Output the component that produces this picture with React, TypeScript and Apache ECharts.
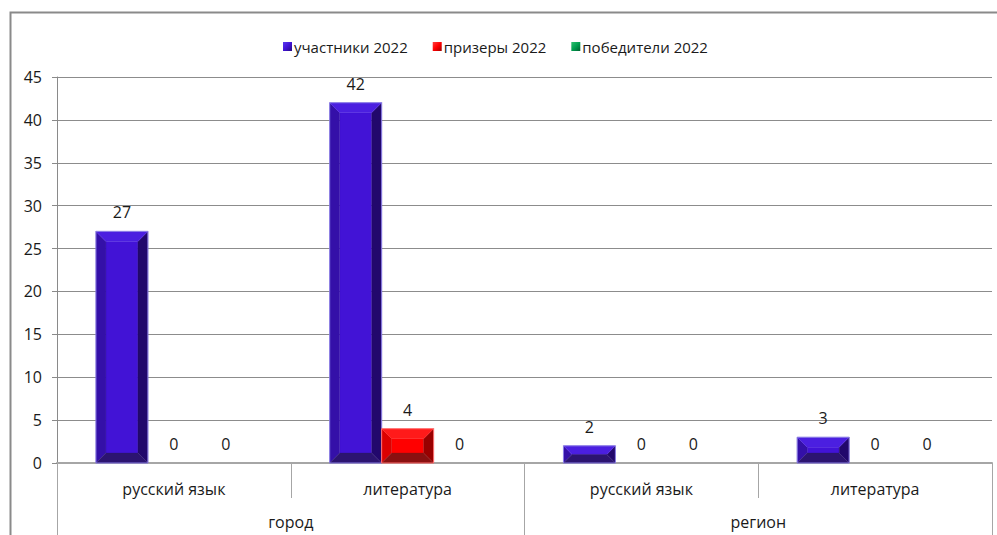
import React, { useEffect, useRef } from "react";
import * as echarts from "echarts";

const subjects = ["русский язык", "литература", "русский язык", "литература"];
const levels = ["город", "регион"];
const seriesNames = ["участники 2022", "призеры 2022", "победители 2022"];
const participants = [27, 42, 2, 3];
const prizewinners = [0, 4, 0, 0];
const winners = [0, 0, 0, 0];
const yTicks = { min: 0, max: 45, interval: 5 };

const FONT = "'Open Sans', 'Noto Sans', sans-serif";

const palettes = [
  { face: "#4213d6", top: "#4b1fe0", left: "#3410a8", right: "#22086c", bottom: "#2c1470", edge: "#8b7ee6", l1: "#5a3af0", l2: "#240a80" },
  { face: "#ff0000", top: "#ff1a1a", left: "#dc0000", right: "#990000", bottom: "#8a1010", edge: "#ff7070", l1: "#ff4040", l2: "#a00000" },
  { face: "#00a050", top: "#10b060", left: "#008a40", right: "#005a28", bottom: "#0a5a2a", edge: "#60d090", l1: "#30c070", l2: "#006030" },
];

function makeRender(sIdx: number) {
  const p = palettes[sIdx];
  return (params: any, api: any) => {
    const cat = api.value(0);
    const v = api.value(1);
    const base = api.coord([cat, 0]);
    const top = api.coord([cat, v]);
    const catW = api.size([1, 0])[0];
    const bw = (catW * (1 - 1 / 3)) / 3;
    const cx = base[0] + (sIdx - 1) * bw;
    const x0 = cx - bw / 2;
    const x1 = cx + bw / 2;
    const y0 = top[1];
    const y1 = base[1];
    const h = y1 - y0;
    const children: any[] = [];
    if (h > 0.5) {
      const b = Math.min(10, h / 2, bw / 4);
      const poly = (pts: number[][], fill: string) => ({
        type: "polygon",
        shape: { points: pts },
        style: { fill, stroke: fill, lineWidth: 0.3 },
      });
      children.push(poly([[x0 + b, y0 + b], [x1 - b, y0 + b], [x1 - b, y1 - b], [x0 + b, y1 - b]], p.face));
      children.push(poly([[x0, y0], [x0 + b, y0 + b], [x0 + b, y1 - b], [x0, y1]], p.left));
      children.push(poly([[x1, y0], [x1 - b, y0 + b], [x1 - b, y1 - b], [x1, y1]], p.right));
      children.push(poly([[x0, y0], [x1, y0], [x1 - b, y0 + b], [x0 + b, y0 + b]], p.top));
      children.push(poly([[x0, y1], [x1, y1], [x1 - b, y1 - b], [x0 + b, y1 - b]], p.bottom));
      children.push({
        type: "rect",
        shape: { x: x0, y: y0, width: bw, height: h },
        style: { fill: "none", stroke: p.edge, lineWidth: 1 },
      });
    }
    children.push({
      type: "text",
      x: cx,
      y: y0 - 19,
      style: {
        text: String(v),
        fill: "#1a1a1a",
        font: `16px ${FONT}`,
        align: "center",
        verticalAlign: "middle",
      },
    });
    return { type: "group", children };
  };
}

const seriesData = [participants, prizewinners, winners];

export default function App() {
  const ref = useRef<HTMLDivElement>(null);
  useEffect(() => {
    if (!ref.current) return;
    const chart = echarts.init(ref.current, undefined, { renderer: "svg" });
    chart.setOption({
      animation: false,
      backgroundColor: "#ffffff",
      textStyle: { fontFamily: FONT },
      graphic: [
        {
          type: "rect",
          shape: { x: 10.5, y: 12.5, width: 1000, height: 600 },
          style: { fill: "none", stroke: "#8a8a8a", lineWidth: 2 },
          z: 100,
          silent: true,
        },
      ],
      legend: {
        top: 34,
        left: 278,
        itemWidth: 9,
        itemHeight: 9,
        itemGap: 25,
        textStyle: { fontSize: 15, color: "#1a1a1a", fontFamily: FONT, padding: [0, 0, 0, -3] },
        data: seriesNames.map((n, i) => ({
          name: n,
          icon: "rect",
          itemStyle: {
            color: new echarts.graphic.LinearGradient(0, 0, 1, 1, [
              { offset: 0, color: palettes[i].l1 },
              { offset: 0.5, color: palettes[i].face },
              { offset: 1, color: palettes[i].l2 },
            ]),
          },
        })),
      },
      grid: { left: 57, right: 5, top: 77, bottom: 72 },
      xAxis: [
        {
          type: "category",
          data: subjects,
          position: "bottom",
          axisLine: { show: true, lineStyle: { color: "#a6a6a6", width: 2 } },
          axisTick: { show: true, interval: 0, length: 35, lineStyle: { color: "#a6a6a6", width: 1 } },
          axisLabel: { margin: 18, fontSize: 16, color: "#1a1a1a", fontFamily: FONT, interval: 0 },
          splitLine: { show: false },
        },
        {
          type: "category",
          data: levels,
          position: "bottom",
          offset: 0,
          axisLine: { show: false },
          axisTick: { show: true, interval: 0, length: 90, lineStyle: { color: "#a6a6a6", width: 1 } },
          axisLabel: { margin: 51, fontSize: 16, color: "#1a1a1a", fontFamily: FONT, interval: 0 },
          splitLine: { show: false },
        },
      ],
      yAxis: {
        type: "value",
        min: yTicks.min,
        max: yTicks.max,
        interval: yTicks.interval,
        axisLine: { show: true, lineStyle: { color: "#8a8a8a", width: 1 } },
        axisTick: { show: true, length: 5, lineStyle: { color: "#8a8a8a" } },
        axisLabel: { margin: 15, fontSize: 16, color: "#1a1a1a", fontFamily: FONT },
        splitLine: { show: true, lineStyle: { color: "#8c8c8c", width: 1 } },
      },
      series: seriesNames.map((n, i) => ({
        type: "custom",
        name: n,
        xAxisIndex: 0,
        yAxisIndex: 0,
        itemStyle: { color: palettes[i].face },
        renderItem: makeRender(i),
        encode: { x: 0, y: 1 },
        data: seriesData[i].map((v, k) => [k, v]),
        z: 3,
      })),
    });
    return () => chart.dispose();
  }, []);
  return (
    <div
      ref={ref}
      style={{ position: "fixed", left: 0, top: 0, width: 997, height: 535, background: "#fff" }}
    />
  );
}
